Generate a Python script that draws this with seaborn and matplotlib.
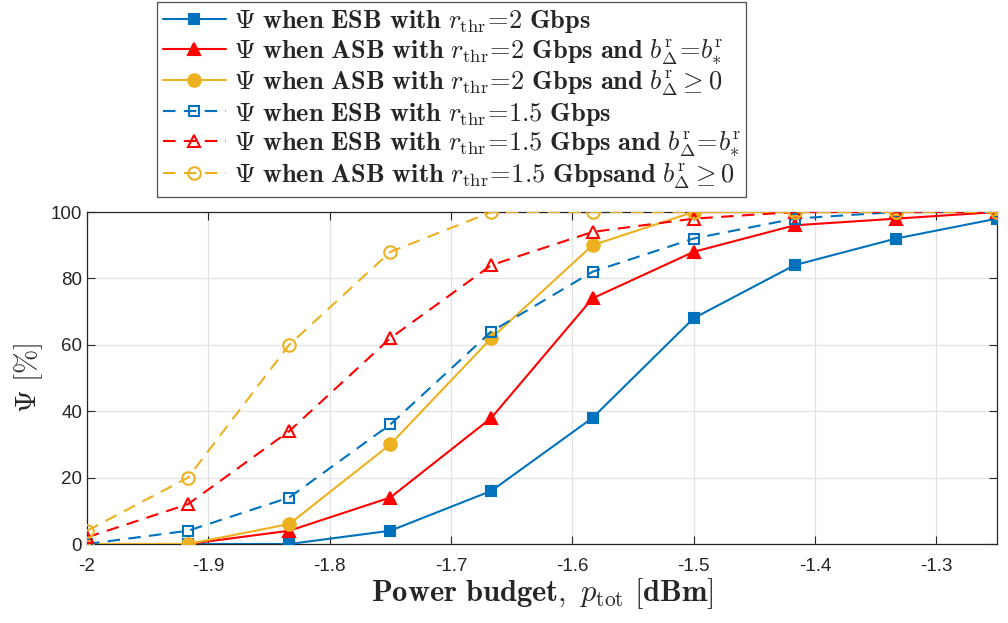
import numpy as np
import pandas as pd
import matplotlib
matplotlib.use("Agg")
import matplotlib.pyplot as plt
import seaborn as sns

# Power budget grid [dBm]
p_tot = [-2.0, -1.9167, -1.8333, -1.75, -1.6667, -1.5833, -1.5, -1.4167, -1.3333, -1.25]

# Satisfaction ratio Psi [%]
esb_2 = [0, 0, 0, 4, 16, 38, 68, 84, 92, 98]
asb_2_eq = [0, 0, 4, 14, 38, 74, 88, 96, 98, 100]
asb_2_ge = [0, 0, 6, 30, 62, 90, 100, 100, 100, 100]
esb_15 = [0, 4, 14, 36, 64, 82, 92, 98, 100, 100]
esb_15_eq = [2, 12, 34, 62, 84, 94, 98, 100, 100, 100]
asb_15_ge = [4, 20, 60, 88, 100, 100, 100, 100, 100, 100]

PSI = r"\boldsymbol{\Psi}"
RTHR = r"r_{\mathrm{thr}}"
BD = r"b^{\mathrm{r}}_{\boldsymbol{\Delta}}"
EQ = r"\!\mathbf{=}\!"
labels = [
    rf"${PSI}\mathbf{{\ when\ ESB\ with}}\ {RTHR}{EQ}\mathbf{{2\ Gbps}}$",
    rf"${PSI}\mathbf{{\ when\ ASB\ with}}\ {RTHR}{EQ}\mathbf{{2\ Gbps\ and}}\ {BD}{EQ}b^{{\mathrm{{r}}}}_{{*}}$",
    rf"${PSI}\mathbf{{\ when\ ASB\ with}}\ {RTHR}{EQ}\mathbf{{2\ Gbps\ and}}\ {BD}\geq\mathbf{{0}}$",
    rf"${PSI}\mathbf{{\ when\ ESB\ with}}\ {RTHR}{EQ}\mathbf{{1.5\ Gbps}}$",
    rf"${PSI}\mathbf{{\ when\ ESB\ with}}\ {RTHR}{EQ}\mathbf{{1.5\ Gbps\ and}}\ {BD}{EQ}b^{{\mathrm{{r}}}}_{{*}}$",
    rf"${PSI}\mathbf{{\ when\ ASB\ with}}\ {RTHR}{EQ}\mathbf{{1.5\ Gbpsand}}\ {BD}\geq\mathbf{{0}}$",
]

blue, red, yellow = "#0072BD", "#FF0000", "#EDB120"
series = [
    (esb_2, blue, "-", "s", True, 7),
    (asb_2_eq, red, "-", "^", True, 9),
    (asb_2_ge, yellow, "-", "o", True, 9),
    (esb_15, blue, (0, (6, 4)), "s", False, 7),
    (esb_15_eq, red, (0, (6, 4)), "^", False, 9),
    (asb_15_ge, yellow, (0, (6, 4)), "o", False, 9),
]

sns.set_style("whitegrid")
plt.rcParams["mathtext.fontset"] = "cm"
plt.rcParams["font.family"] = ["Liberation Sans", "DejaVu Sans"]

fig = plt.figure(figsize=(10.08, 6.23), dpi=100)
ax = fig.add_axes([0.0863, 0.1268, 0.9027, 0.5329])

for (vals, col, ls, mk, filled, ms), lab in zip(series, labels):
    df = pd.DataFrame({"p": p_tot, "psi": vals})
    sns.lineplot(
        data=df, x="p", y="psi", ax=ax, color=col, linestyle=ls, linewidth=1.5,
        marker=mk, markersize=ms, markeredgewidth=1.5,
        markerfacecolor=col if filled else "none", markeredgecolor=col,
        label=lab, legend=False, zorder=3,
    )

ax.set_xlim(-2.0, -1.25)
ax.set_ylim(0, 100)
ax.set_xticks(np.arange(-2.0, -1.25, 0.1))
ax.set_xticklabels(["-2", "-1.9", "-1.8", "-1.7", "-1.6", "-1.5", "-1.4", "-1.3"])
ax.set_yticks(np.arange(0, 101, 20))
ax.tick_params(axis="both", which="both", direction="in", length=6, width=0.8,
               labelsize=13.5, colors="#262626", top=True, right=True,
               bottom=True, left=True, labelcolor="#262626")
ax.tick_params(axis="x", pad=10)
ax.grid(True, color="#E3E3E3", linewidth=0.9)
for sp in ax.spines.values():
    sp.set_color("#262626")
    sp.set_linewidth(0.9)
ax.set_facecolor("white")

ax.set_xlabel(r"$\mathbf{Power\ budget,}\ p_{\mathrm{tot}}\ \mathbf{[dBm]}$", fontsize=22, labelpad=1)
ax.set_ylabel(r"$\boldsymbol{\Psi}\ \mathbf{[\%]}$", fontsize=21, labelpad=4)

handles, labs = ax.get_legend_handles_labels()
leg = fig.legend(handles, labs, loc="upper left", bbox_to_anchor=(0.156, 0.996),
                 fontsize=19, frameon=True, fancybox=False, edgecolor="#262626",
                 handlelength=2.4, labelspacing=0.08, borderpad=0.2,
                 handletextpad=0.3, borderaxespad=0)
leg.get_frame().set_linewidth(0.9)

fig.savefig("out.png", dpi=100, facecolor="white")
